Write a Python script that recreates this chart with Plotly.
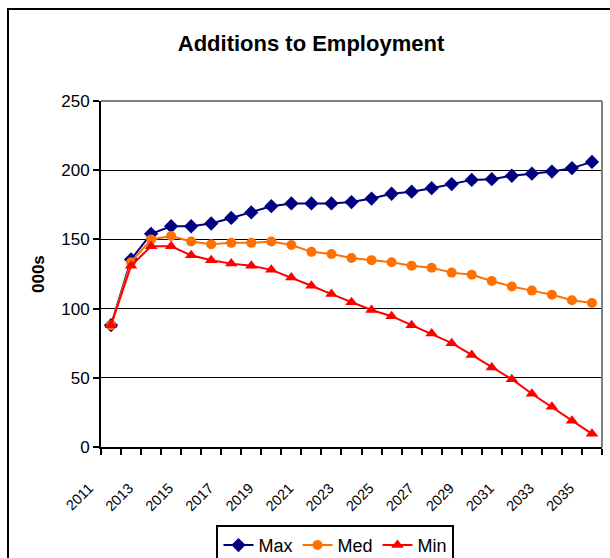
import plotly.graph_objects as go

years = list(range(2011, 2036))
max_vals = [88, 135.5, 154, 159.5, 159.5, 161.5, 165.5, 169.5, 174, 176, 176, 176, 177,
            179.5, 183, 184.5, 187, 190, 193, 193.5, 196, 197.5, 199, 201.5, 206]
med_vals = [88, 133.5, 150, 152.5, 148.5, 146.5, 147.5, 147.5, 148.5, 146, 141, 139.5, 136.5,
            135, 133.5, 131, 129.5, 126, 124.5, 120, 116, 113, 110, 106, 104]
min_vals = [88, 131, 145, 145, 138.5, 135, 132.5, 131, 128, 122.5, 116.5, 110.5, 104.5,
            99, 94.5, 88, 82, 75, 66.5, 57.5, 49, 38.5, 29, 19, 9.5]
tick_years = list(range(2011, 2036, 2))
tick_text = [str(y) for y in tick_years]

FONT = "Liberation Sans, Arial, sans-serif"

fig = go.Figure()
fig.add_trace(go.Scatter(x=years, y=max_vals, name="Max", mode="lines+markers",
                         line=dict(color="#000080", width=2),
                         marker=dict(symbol="diamond", size=11, color="#000080")))
fig.add_trace(go.Scatter(x=years, y=med_vals, name="Med", mode="lines+markers",
                         line=dict(color="#FF7000", width=2),
                         marker=dict(symbol="circle", size=10, color="#FF7000")))
fig.add_trace(go.Scatter(x=years, y=min_vals, name="Min", mode="lines+markers",
                         line=dict(color="#FF0000", width=2),
                         marker=dict(symbol="triangle-up", size=11, color="#FF0000")))

fig.update_layout(
    width=610, height=558,
    margin=dict(l=101, r=8, t=101, b=111, autoexpand=False),
    paper_bgcolor="white", plot_bgcolor="white",
    font=dict(family=FONT, color="black", size=17),
    title=dict(text="<b>Additions to Employment</b>", x=311 / 610, xref="container",
               xanchor="center", y=1 - 43 / 558, yref="container", yanchor="middle",
               font=dict(size=22, family=FONT, color="black")),
    showlegend=True,
    legend=dict(orientation="h", x=0.468, xanchor="center", y=-0.225, yanchor="top",
                bordercolor="black", borderwidth=2, font=dict(size=18, family=FONT),
                itemclick=False),
    xaxis=dict(range=[2010.5, 2035.5], tickmode="array", tickvals=tick_years,
               ticktext=tick_text, tickangle=-45, ticks="", showgrid=False,
               showline=True, linecolor="black", linewidth=2, zeroline=False,
               tickfont=dict(size=14.5, family=FONT),
               ticklabelstandoff=25, ticklabelshift=-22,
               minor=dict(ticks="outside", tick0=2010.5, dtick=1, ticklen=6,
                          tickwidth=2, tickcolor="black", showgrid=False)),
    yaxis=dict(range=[0, 250], dtick=50, ticks="outside", ticklen=6, tickwidth=2,
               tickcolor="black", showline=True, linecolor="black", linewidth=2,
               showgrid=True, gridcolor="black", gridwidth=1, zeroline=False,
               tickfont=dict(size=17, family=FONT)),
    annotations=[dict(text="<b>000s</b>", xref="paper", yref="paper",
                      x=(38 - 101) / 501, y=0.5, xanchor="center", yanchor="middle",
                      textangle=-90, showarrow=False,
                      font=dict(size=17, family=FONT))],
    shapes=[
        dict(type="line", xref="paper", yref="paper", x0=0, x1=1, y0=1, y1=1,
             line=dict(color="#808080", width=2), layer="above"),
        dict(type="line", xref="paper", yref="paper", x0=1, x1=1, y0=0, y1=1,
             line=dict(color="#808080", width=2), layer="above"),
        dict(type="rect", xref="paper", yref="paper", x0=(8 - 101) / 501, x1=1.2,
             y0=-0.6, y1=(447 - 9) / 346, line=dict(color="black", width=2),
             layer="below"),
    ],
)

fig.write_html("out.html")
